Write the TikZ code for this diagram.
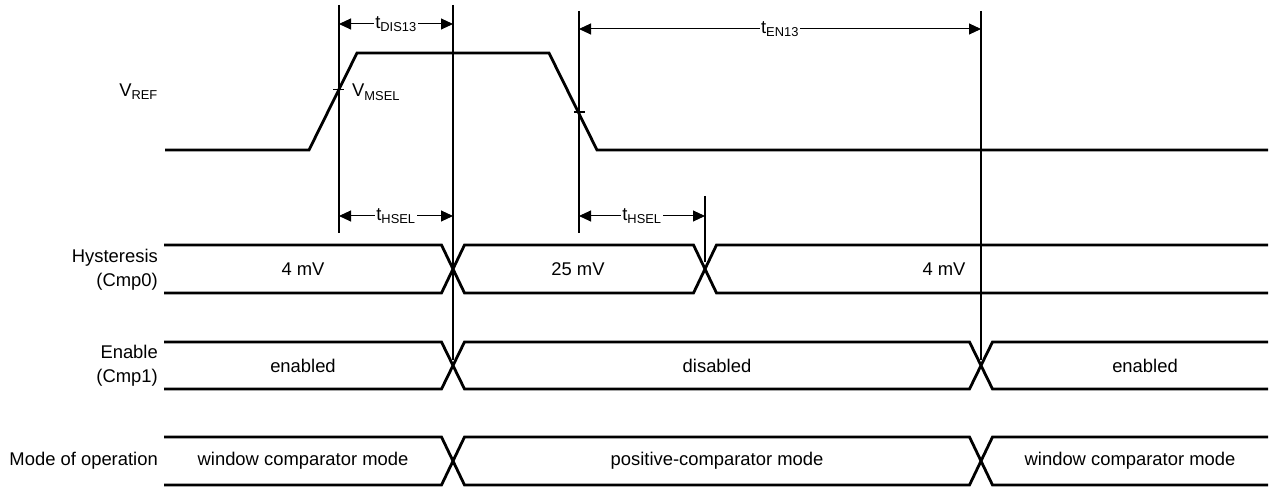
\documentclass[tikz,border=0pt]{standalone}
\usepackage{fontspec}
\setmainfont{Liberation Sans}
\usetikzlibrary{arrows.meta}
\begin{document}
\begin{tikzpicture}[x=1pt,y=-1pt,
  every node/.style={font=\fontsize{18.4}{24}\selectfont, inner sep=0pt},
  wave/.style={line width=2.8pt, line join=miter},
  bus/.style={line width=2.8pt, line join=miter},
  guide/.style={line width=1.8pt},
  ticky/.style={line width=1.2pt},
  dim/.style={line width=1pt, {Triangle[length=12pt,width=11pt]}-{Triangle[length=12pt,width=11pt]}},
  dlabel/.style={fill=white, inner xsep=1pt, inner ysep=0pt},
  rowlabel/.style={anchor=east, align=right},
  buslabel/.style={anchor=center}]
\useasboundingbox (0,0) rectangle (1270,489);

% guide lines
\coordinate (g1t) at (339,5);   \coordinate (g1b) at (339,233);
\coordinate (g2t) at (453,5);   \coordinate (g2b) at (453,360);
\coordinate (g3t) at (579,11);  \coordinate (g3b) at (579,233);
\coordinate (g4t) at (705,196); \coordinate (g4b) at (705,262);
\coordinate (g5t) at (981,11);  \coordinate (g5b) at (981,360);
\draw[guide] (g1t) -- (g1b);
\draw[guide] (g2t) -- (g2b);
\draw[guide] (g3t) -- (g3b);
\draw[guide] (g4t) -- (g4b);
\draw[guide] (g5t) -- (g5b);

% VREF waveform
\draw[wave] (165,150) -- (309,150) -- (357,53) -- (549,53) -- (597,150) -- (1268,150);
\coordinate (m1a) at (333,89.5); \coordinate (m1b) at (344,89.5);
\coordinate (m2a) at (574,112);  \coordinate (m2b) at (585,112);
\draw[ticky] (m1a) -- (m1b);
\draw[ticky] (m2a) -- (m2b);
\node[anchor=base east] (vref) at (158,97) {V\textsubscript{REF}};
\node[anchor=base west] (vmsel) at (352,97) {V\textsubscript{MSEL}};

% dimension arrows
\coordinate (d1a) at (339,24); \coordinate (d1b) at (453,24);
\coordinate (d2a) at (579,29); \coordinate (d2b) at (981,29);
\coordinate (d3a) at (339,216); \coordinate (d3b) at (453,216);
\coordinate (d4a) at (579,216); \coordinate (d4b) at (705,216);
\draw[dim] (d1a) -- node[dlabel] (tdis) {t\textsubscript{DIS13}} (d1b);
\draw[dim] (d2a) -- node[dlabel] (ten) {t\textsubscript{EN13}} (d2b);
\draw[dim] (d3a) -- node[dlabel] (th1) {t\textsubscript{HSEL}} (d3b);
\draw[dim] (d4a) -- node[dlabel] (th2) {t\textsubscript{HSEL}} (d4b);

% Hysteresis row (245..293)
\draw[bus] (164,245) -- (441.5,245) -- (464.5,293) -- (693.5,293) -- (716.5,245) -- (1268,245);
\draw[bus] (164,293) -- (441.5,293) -- (464.5,245) -- (693.5,245) -- (716.5,293) -- (1268,293);
\node[rowlabel] (hyl) at (158,270) {Hysteresis\\(Cmp0)};
\node[buslabel] (h1) at (303,269) {4 mV};
\node[buslabel] (h2) at (578,269) {25 mV};
\node[buslabel] (h3) at (944,269) {4 mV};

% Enable row (342..389)
\draw[bus] (164,342) -- (441.5,342) -- (464.5,389) -- (969.5,389) -- (992.5,342) -- (1268,342);
\draw[bus] (164,389) -- (441.5,389) -- (464.5,342) -- (969.5,342) -- (992.5,389) -- (1268,389);
\node[rowlabel] (enl) at (158,366) {Enable\\(Cmp1)};
\node[buslabel] (e1) at (303,366) {enabled};
\node[buslabel] (e2) at (717,366) {disabled};
\node[buslabel] (e3) at (1145,366) {enabled};

% Mode row (437..485)
\draw[bus] (164,437) -- (441.5,437) -- (464.5,485) -- (969.5,485) -- (992.5,437) -- (1268,437);
\draw[bus] (164,485) -- (441.5,485) -- (464.5,437) -- (969.5,437) -- (992.5,485) -- (1268,485);
\node[rowlabel] (mol) at (158,461) {Mode of operation};
\node[buslabel] (o1) at (303,461) {window comparator mode};
\node[buslabel] (o2) at (717,461) {positive-comparator mode};
\node[buslabel] (o3) at (1130,461) {window comparator mode};
\end{tikzpicture}
\end{document}
